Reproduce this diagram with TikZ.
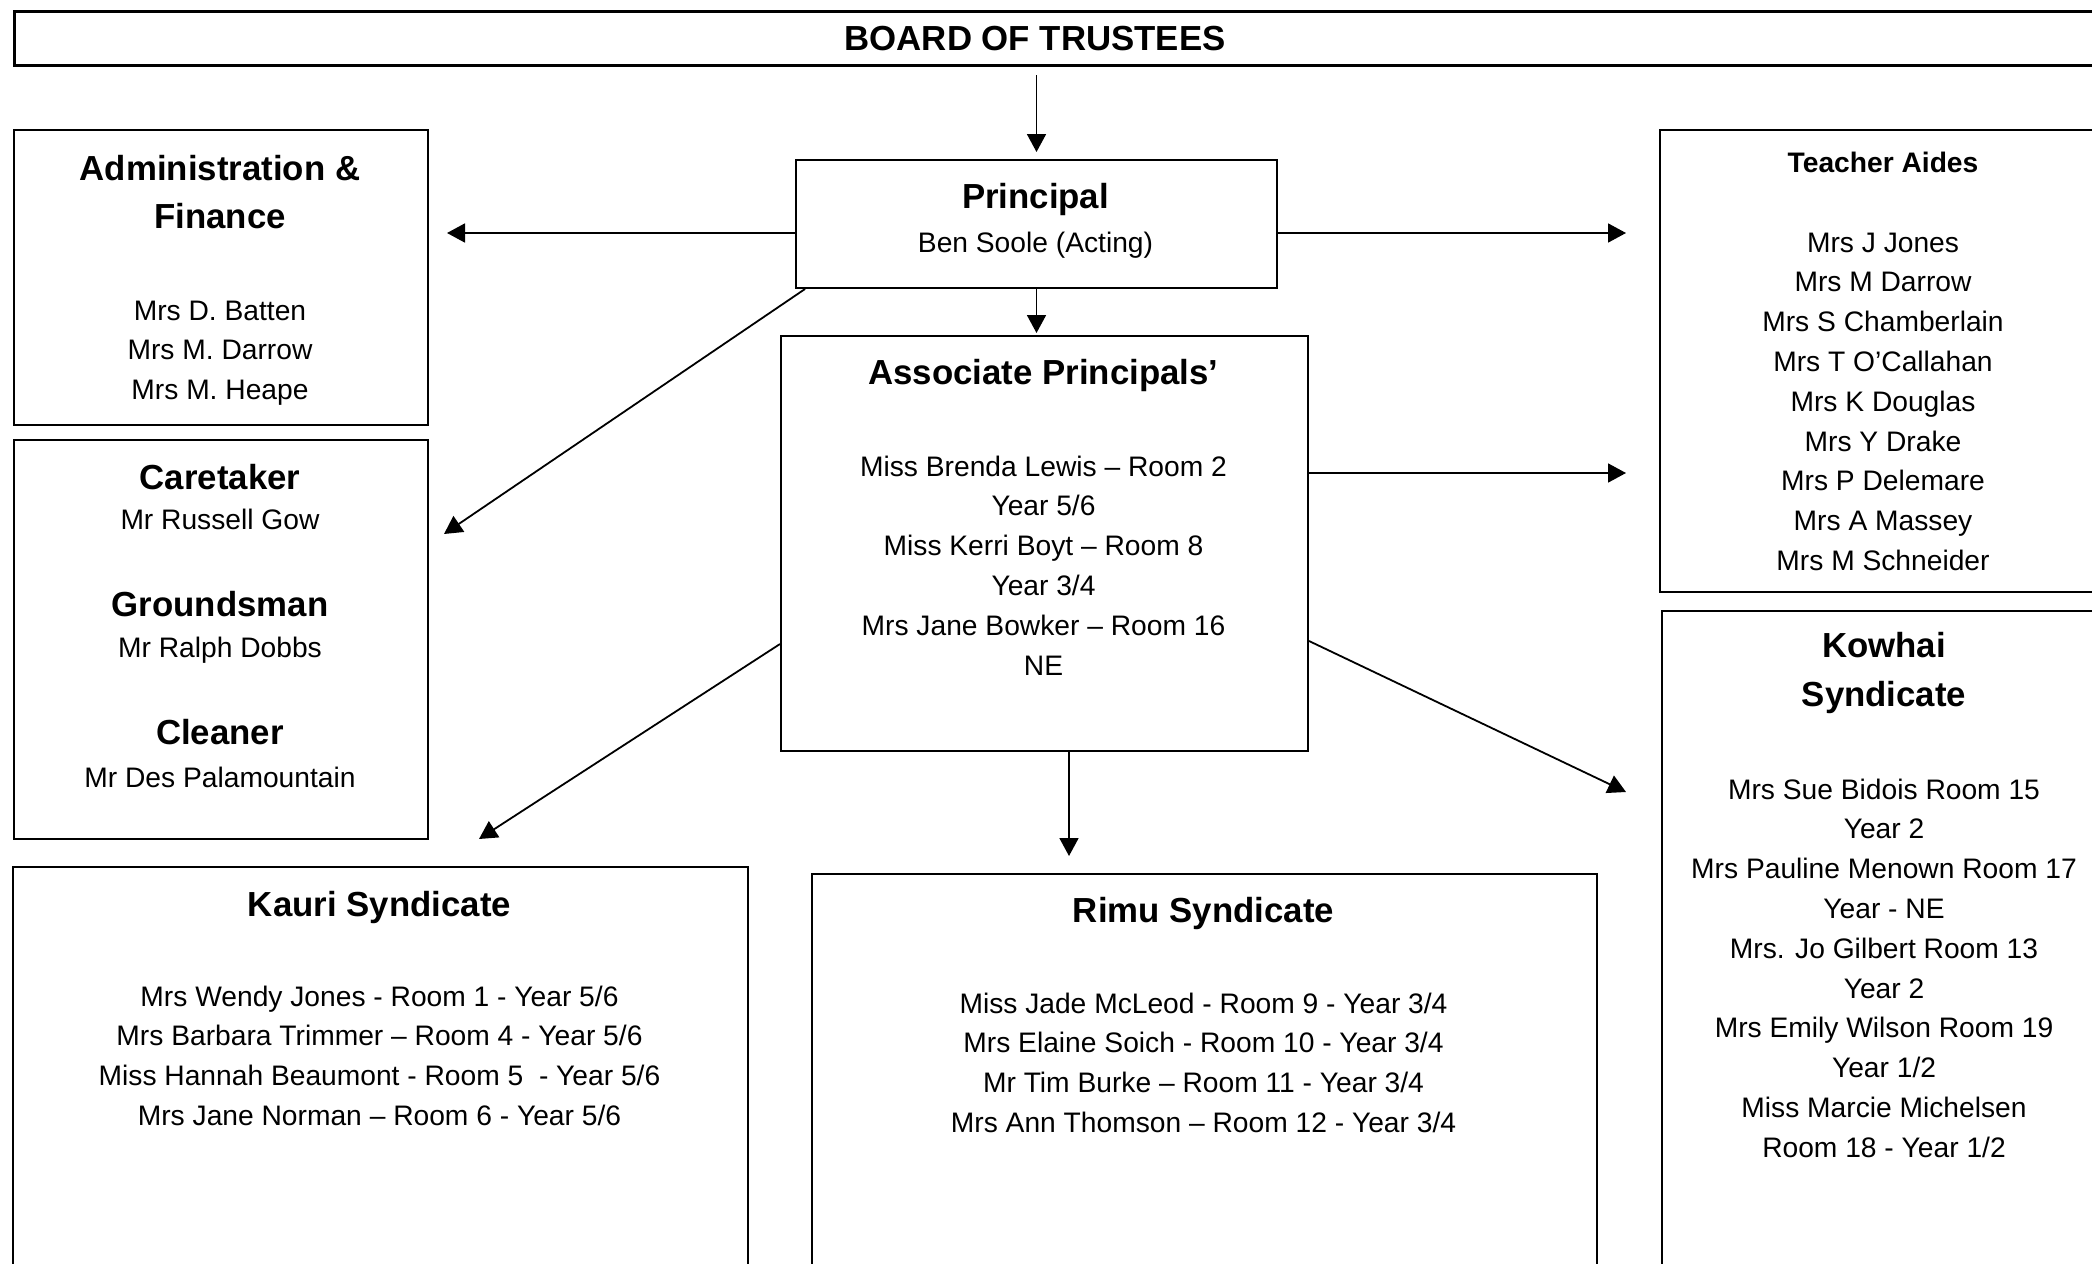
\documentclass[tikz,border=0pt]{standalone}
\usepackage{fontspec}
\setmainfont{Liberation Sans}
\usetikzlibrary{arrows.meta}
\begin{document}
\begin{tikzpicture}[x=1pt,y=-1pt,
  box/.style={draw, line width=2pt, inner sep=0pt, anchor=north west},
  txt/.style={anchor=base, inner sep=0pt, font=\fontsize{28.2}{34}\selectfont},
  subhead/.style={anchor=base, inner sep=0pt, font=\fontsize{28.2}{34}\selectfont\bfseries},
  head/.style={anchor=base, inner sep=0pt, font=\fontsize{34.8}{42}\selectfont\bfseries},
  arr/.style={-{Triangle[length=18pt,width=19pt]}, line width=1.8pt}
]
\useasboundingbox (0,0) rectangle (2092,1263);
\fill[white] (0,0) rectangle (2092,1263);
\clip (0,0) rectangle (2092,1263);

% boxes
\node[box, line width=3.2pt, minimum width=2107pt, minimum height=54pt] (board) at (13,10) {};
\node[box, minimum width=481pt, minimum height=128pt] (prin) at (795,159) {};
\node[box, minimum width=414pt, minimum height=295pt] (admin) at (13,129) {};
\node[box, minimum width=470pt, minimum height=462pt] (ta) at (1659,129) {};
\node[box, minimum width=527pt, minimum height=415pt] (assoc) at (780,335) {};
\node[box, minimum width=414pt, minimum height=399pt] (care) at (13,439) {};
\node[box, minimum width=735pt, minimum height=430pt] (kauri) at (12,866) {};
\node[box, minimum width=785pt, minimum height=430pt] (rimu) at (811,873) {};
\node[box, minimum width=470pt, minimum height=700pt] (kowhai) at (1661,610) {};

% texts
\node[head] (tboard) at (1035,51) {BOARD OF TRUSTEES};

\node[head] (tprin) at (1035.5,208) {Principal};
\node[txt] (tprin2) at (1035.5,252) {Ben Soole (Acting)};

\node[head] (tadmin1) at (220,180) {Administration \&};
\node[head] (tadmin2) at (220,228) {Finance};
\foreach \t [count=\i from 0] in {Mrs D. Batten, Mrs M. Darrow, Mrs M. Heape}
  \node[txt] (adm\i) at (220,{320+39.8*\i}) {\t};

\node[subhead] (tta) at (1883,172) {Teacher Aides};
\foreach \t [count=\i from 0] in {Mrs J Jones, Mrs M Darrow, Mrs S Chamberlain, Mrs T O’Callahan, Mrs K Douglas, Mrs Y Drake, Mrs P Delemare, Mrs A Massey, Mrs M Schneider}
  \node[txt] (ta\i) at (1883,{252+39.8*\i}) {\t};

\node[head] (tassoc) at (1043.5,384) {Associate Principals’};
\foreach \t [count=\i from 0] in {Miss Brenda Lewis – Room 2, Year 5/6, Miss Kerri Boyt – Room 8, Year 3/4, Mrs Jane Bowker – Room 16, NE}
  \node[txt] (as\i) at (1043.5,{476+39.8*\i}) {\t};

\node[head] (tcare) at (220,489) {Caretaker};
\node[txt] (tcare2) at (220,529) {Mr Russell Gow};
\node[head] (tground) at (220,616) {Groundsman};
\node[txt] (tground2) at (220,657) {Mr Ralph Dobbs};
\node[head] (tclean) at (220,744) {Cleaner};
\node[txt] (tclean2) at (220,787) {Mr Des Palamountain};

\node[head] (tkauri) at (379.5,916) {Kauri Syndicate};
\foreach \t [count=\i from 0] in {Mrs Wendy Jones - Room 1 - Year 5/6, Mrs Barbara Trimmer – Room 4 - Year 5/6, Miss Hannah Beaumont - Room 5~ - Year 5/6, Mrs Jane Norman – Room 6 - Year 5/6}
  \node[txt] (ka\i) at (379.5,{1006+39.8*\i}) {\t};

\node[head] (trimu) at (1203.5,922) {Rimu Syndicate};
\foreach \t [count=\i from 0] in {Miss Jade McLeod - Room 9 - Year 3/4, Mrs Elaine Soich - Room 10 - Year 3/4, Mr Tim Burke – Room 11 - Year 3/4, Mrs Ann Thomson – Room 12 - Year 3/4}
  \node[txt] (ri\i) at (1203.5,{1013+39.8*\i}) {\t};

\node[head] (tkow1) at (1884,657) {Kowhai};
\node[head] (tkow2) at (1884,706) {Syndicate};
\foreach \t [count=\i from 0] in {Mrs Sue Bidois Room 15, Year 2, Mrs Pauline Menown Room 17, Year - NE, Mrs. Jo Gilbert Room 13, Year 2, Mrs Emily Wilson Room 19, Year 1/2, Miss Marcie Michelsen, Room 18 - Year 1/2}
  \node[txt] (kw\i) at (1884,{799+39.8*\i}) {\t};

% connectors
\coordinate (b1) at (prin.north |- board.south);
\draw[arr, shorten <=8pt, shorten >=7pt] (b1) -- (prin.north);
\draw[arr, shorten >=2pt] (prin.south) -- (prin.south |- assoc.north);

\coordinate (pL) at ([yshift=-9pt]prin.west);
\draw[arr, shorten >=18pt] (pL) -- (pL -| admin.east);
\coordinate (pR) at ([yshift=-9pt]prin.east);
\draw[arr, shorten >=33pt] (pR) -- (pR -| ta.west);

\coordinate (pSW) at ([xshift=10pt]prin.south west);
\coordinate (careT) at (444,534);
\draw[arr] (pSW) -- (careT);

\coordinate (aR) at ([yshift=70.5pt]assoc.east);
\draw[arr, shorten >=33pt] (aR) -- (aR -| ta.west);

\coordinate (aR2) at ([yshift=-97.5pt]assoc.east);
\coordinate (kowT) at (1626,792);
\draw[arr] (aR2) -- (kowT);

\coordinate (aL) at ([yshift=-100.5pt]assoc.west);
\coordinate (kauT) at (479,839);
\draw[arr] (aL) -- (kauT);

\coordinate (aS) at ([xshift=24.5pt]assoc.south);
\draw[arr, shorten >=17pt] (aS) -- (aS |- rimu.north);
\end{tikzpicture}
\end{document}
